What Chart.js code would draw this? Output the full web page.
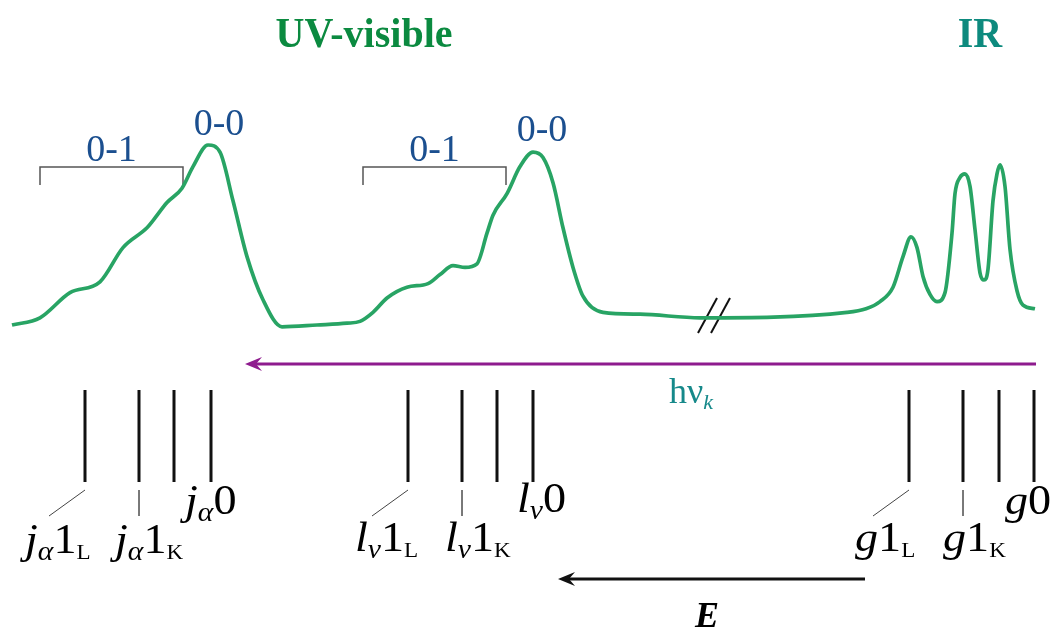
<!DOCTYPE html>
<html>
<head>
<meta charset="utf-8">
<script src="https://cdn.jsdelivr.net/npm/chart.js@4"></script>
<style>
  html, body { margin: 0; padding: 0; background: #ffffff; }
  #wrap { width: 1056px; height: 631px; position: relative; }
</style>
</head>
<body>
<div id="wrap"><canvas id="c"></canvas></div>
<script>
// ---------- DATA ----------
// Absorption spectrum: energy position (x) and relative intensity (y)
const specX = [12, 40, 70, 100, 123, 147, 153, 167, 182, 193, 208, 220, 233, 247, 263, 282, 317, 347,
               360, 373, 387, 407, 428, 440, 453, 465, 477, 487, 493, 507, 520, 533, 543, 553, 563, 573, 583, 603, 640, 700,
               847, 866, 880, 893, 903, 911, 917, 923, 930, 937, 945, 952, 955, 960, 965, 970, 975, 980, 984, 988,
               993, 997, 1000, 1005, 1010, 1017, 1023, 1035];
const specY = [0.00, 0.04, 0.18, 0.24, 0.43, 0.54, 0.58, 0.68, 0.76, 0.88, 1.00, 0.96, 0.69, 0.38, 0.14, -0.01, 0.00, 0.01,
               0.02, 0.07, 0.15, 0.21, 0.23, 0.28, 0.33, 0.32, 0.34, 0.51, 0.61, 0.73, 0.88, 0.96, 0.93, 0.79, 0.54, 0.32, 0.16, 0.07, 0.06, 0.04,
               0.07, 0.09, 0.13, 0.21, 0.38, 0.49, 0.43, 0.27, 0.17, 0.13, 0.18, 0.51, 0.73, 0.82, 0.84, 0.77, 0.53, 0.29, 0.25, 0.31,
               0.69, 0.84, 0.89, 0.77, 0.42, 0.19, 0.11, 0.09];

// Transition energies (stick positions) for each band system
const jLines = [85, 139, 174, 211];
const lLines = [408, 462, 497, 533];
const gLines = [909, 963, 999, 1034];

// Vibronic bracket ranges (0-1) and 0-0 peak positions
const bracketRanges = [[40, 183], [363, 506]];
const bracketLabels = ['0-1', '0-1'];
const peakLabels = ['0-0', '0-0'];
const peakLabelX = [219, 542];

// Region titles
const regionTitles = ['UV-visible', 'IR'];
const regionTitleX = [364, 980];

// Photon energy arrow and energy arrow extents
const hvArrow = [245, 1036];
const eArrow = [558, 865];

// ---------- STYLE / LAYOUT ----------
const SERIF = '"Liberation Serif", "DejaVu Serif", serif';
const GREEN = '#28a464';
const BLUE = '#1b4f8f';
const PURPLE = '#8e1b8e';
const TEAL = '#16898a';

const stickTop = 390, stickBot = 482;
const datasets = [];

datasets.push({
  label: 'spectrum',
  data: specX.map((x, i) => ({ x, y: specY[i] })),
  yAxisID: 'yI',
  borderColor: GREEN,
  borderWidth: 3.7,
  pointRadius: 0,
  cubicInterpolationMode: 'monotone',
  fill: false
});

function addSeg(pts, color, width) {
  datasets.push({
    data: pts.map(p => ({ x: p[0], y: p[1] })),
    yAxisID: 'yD', borderColor: color, borderWidth: width,
    pointRadius: 0, tension: 0, fill: false
  });
}

[jLines, lLines, gLines].forEach(group => {
  group.forEach(x => addSeg([[x, stickTop], [x, stickBot]], '#111111', 3));
  // leader lines for 1_L (slanted) and 1_K (vertical)
  addSeg([[group[0], 490], [group[0] - 36, 516]], '#444444', 1);
  addSeg([[group[1], 490], [group[1], 516]], '#666666', 1);
});

bracketRanges.forEach(r => addSeg([[r[0], 185], [r[0], 167], [r[1], 167], [r[1], 185]], '#555555', 1.5));

// break mark
addSeg([[698, 333], [717, 298]], '#111111', 2);
addSeg([[711, 333], [730, 298]], '#111111', 2);

// arrows (shafts)
addSeg([[hvArrow[0] + 8, 364], [hvArrow[1], 364]], PURPLE, 3);
addSeg([[eArrow[0] + 8, 579], [eArrow[1], 579]], '#111111', 3);

function drawRich(ctx, x, y, parts, color, sx) {
  ctx.save();
  ctx.translate(x, y);
  ctx.scale(sx || 1, 1);
  ctx.fillStyle = color;
  ctx.textBaseline = 'alphabetic';
  ctx.textAlign = 'left';
  let cx = 0;
  parts.forEach(p => {
    ctx.font = (p.i ? 'italic ' : '') + (p.b ? 'bold ' : '') + p.s + 'px ' + SERIF;
    ctx.fillText(p.t, cx + (p.dx || 0), (p.dy || 0));
    cx += ctx.measureText(p.t).width + (p.dx || 0);
  });
  ctx.restore();
}

function centerText(ctx, text, x, y, font, color, sx) {
  ctx.save();
  ctx.translate(x, y);
  ctx.scale(sx || 1, 1);
  ctx.font = font;
  ctx.fillStyle = color;
  ctx.textAlign = 'center';
  ctx.textBaseline = 'alphabetic';
  ctx.fillText(text, 0, 0);
  ctx.restore();
}

function arrowHead(ctx, tx, ty, color) {
  ctx.save();
  ctx.fillStyle = color;
  ctx.beginPath();
  ctx.moveTo(tx, ty);
  ctx.lineTo(tx + 17, ty - 7);
  ctx.lineTo(tx + 11, ty);
  ctx.lineTo(tx + 17, ty + 7);
  ctx.closePath();
  ctx.fill();
  ctx.restore();
}

const textPlugin = {
  id: 'texts',
  afterDatasetsDraw(chart) {
    const ctx = chart.ctx;
    const X = v => chart.scales.x.getPixelForValue(v);
    const Y = v => chart.scales.yD.getPixelForValue(v);
    // titles
    centerText(ctx, regionTitles[0], X(regionTitleX[0]), Y(47), 'bold 43px ' + SERIF, '#0b8a40', 0.93);
    centerText(ctx, regionTitles[1], X(regionTitleX[1]), Y(47), 'bold 43px ' + SERIF, '#0d8a7e', 0.93);

    // 0-1 / 0-0 labels
    bracketRanges.forEach((r, i) =>
      centerText(ctx, bracketLabels[i], X((r[0] + r[1]) / 2), Y(161), '38px ' + SERIF, BLUE, 1));
    centerText(ctx, peakLabels[0], X(peakLabelX[0]), Y(135), '38px ' + SERIF, BLUE, 1);
    centerText(ctx, peakLabels[1], X(peakLabelX[1]), Y(141), '38px ' + SERIF, BLUE, 1);

    // arrowheads
    arrowHead(ctx, X(hvArrow[0]), Y(364), PURPLE);
    arrowHead(ctx, X(eArrow[0]), Y(579), '#111111');

    // h nu_k
    drawRich(ctx, X(669), Y(403), [
      { t: 'hν', s: 36 },
      { t: 'k', s: 22, i: true, dy: 6 }
    ], TEAL, 1);

    // E
    centerText(ctx, 'E', X(707), Y(627), 'italic bold 36px ' + SERIF, '#000000', 1);

    // state labels
    const L = 42, S = 27, SS = 21, SX = 1.1;
    const lab = (x, y, sym, greek, tail, sub) => {
      const parts = [{ t: sym, s: L, i: true }];
      if (greek) parts.push({ t: greek, s: S, i: true, dy: 7 });
      parts.push({ t: tail, s: L });
      if (sub) parts.push({ t: sub, s: SS, dy: 6 });
      drawRich(ctx, X(x), Y(y), parts, '#000000', SX);
    };
    lab(jLines[0] - 60, 553, 'j', 'α', '1', 'L');
    lab(jLines[1] - 24, 553, 'j', 'α', '1', 'K');
    lab(jLines[3] - 26, 514, 'j', 'α', '0', null);
    lab(lLines[0] - 53, 551, 'l', 'ν', '1', 'L');
    lab(lLines[1] - 17, 551, 'l', 'ν', '1', 'K');
    lab(lLines[3] - 16, 512, 'l', 'ν', '0', null);
    lab(gLines[0] - 54, 551, 'g', null, '1', 'L');
    lab(gLines[1] - 20, 551, 'g', null, '1', 'K');
    lab(gLines[3] - 29, 514, 'g', null, '0', null);
  }
};

new Chart(document.getElementById('c'), {
  type: 'line',
  data: { datasets },
  options: {
    responsive: true,
    maintainAspectRatio: false,
    animation: false,
    events: [],
    layout: { padding: 0 },
    plugins: { legend: { display: false }, tooltip: { enabled: false } },
    scales: {
      x: { type: 'linear', min: 0, max: 1056, display: false },
      yD: { type: 'linear', min: 0, max: 631, reverse: true, display: false },
      yI: { type: 'linear', min: -(631 - 325) / 180, max: 325 / 180, display: false }
    }
  },
  plugins: [textPlugin]
});
</script>
</body>
</html>
